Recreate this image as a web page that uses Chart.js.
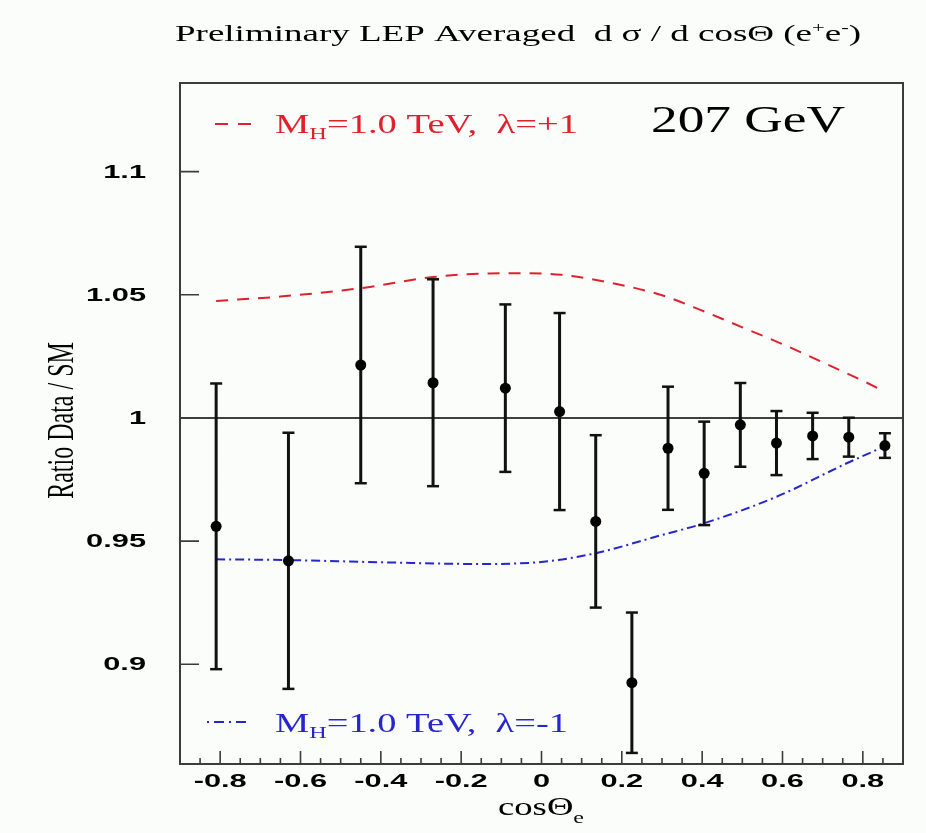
<!DOCTYPE html>
<html>
<head>
<meta charset="utf-8">
<script src="https://cdn.jsdelivr.net/npm/chart.js@4"></script>
<style>
  body { margin: 0; background: #fbfdfb; }
  canvas { display: block; }
</style>
</head>
<body>
<canvas id="lepChart" width="926" height="833"></canvas>
<script>
// measured points: bin centres in cos(theta_e), ratio data / SM and its error
const cosTheta = [-0.81, -0.63, -0.45, -0.27, -0.09, 0.045, 0.135, 0.225, 0.315, 0.405, 0.495, 0.585, 0.675, 0.765, 0.855];
const ratio    = [0.956, 0.942, 1.0215, 1.0143, 1.0121, 1.0026, 0.958, 0.8925, 0.9877, 0.9775, 0.9972, 0.9898, 0.9927, 0.9922, 0.9888];
const ratioErr = [0.058, 0.052, 0.048, 0.042, 0.034, 0.040, 0.035, 0.0285, 0.025, 0.021, 0.017, 0.013, 0.0094, 0.0079, 0.005];

// theory curves, M_H = 1.0 TeV
const plusX  = [-0.81, -0.65, -0.45, -0.27, -0.13, -0.05, 0.05, 0.19, 0.30, 0.40, 0.50, 0.60, 0.70, 0.80, 0.855];
const plusY  = [1.0475, 1.0493, 1.0527, 1.0572, 1.0587, 1.0588, 1.0581, 1.0543, 1.0498, 1.0436, 1.0368, 1.0300, 1.0226, 1.0151, 1.0107];
const minusX = [-0.81, -0.63, -0.40, -0.15, 0.01, 0.135, 0.30, 0.40, 0.585, 0.76, 0.855];
const minusY = [0.9426, 0.9423, 0.9414, 0.9407, 0.9417, 0.9451, 0.9525, 0.957, 0.968, 0.9816, 0.9885];

const xTicks = [-0.8, -0.6, -0.4, -0.2, 0, 0.2, 0.4, 0.6, 0.8];
const xTickLabels = ['-0.8', '-0.6', '-0.4', '-0.2', '0', '0.2', '0.4', '0.6', '0.8'];
const yTicks = [0.9, 0.95, 1, 1.05, 1.1];
const yTickLabels = ['0.9', '0.95', '1', '1.05', '1.1'];

const RED = '#e0202c';
const BLUE = '#2626d0';
const SERIF = '"Liberation Serif", "DejaVu Serif", serif';
const SANS = '"Liberation Sans", Arial, sans-serif';

// the original picture is stretched sideways, so text is drawn scaled in x
function drawParts(ctx, parts, x, y, opts) {
  let natural = 0;
  for (const p of parts) { ctx.font = p.font; natural += ctx.measureText(p.text).width; }
  const sx = opts.width ? opts.width / natural : (opts.sx || 1);
  let left = x;
  if (opts.align === 'center') left = x - natural * sx / 2;
  if (opts.align === 'right') left = x - natural * sx;
  ctx.save();
  ctx.translate(left, y);
  ctx.scale(sx, 1);
  ctx.fillStyle = opts.color || '#000';
  ctx.textAlign = 'left';
  ctx.textBaseline = opts.baseline || 'alphabetic';
  let cx = 0;
  for (const p of parts) {
    ctx.font = p.font;
    ctx.fillText(p.text, cx, p.dy || 0);
    cx += ctx.measureText(p.text).width;
  }
  ctx.restore();
}

const rootStyle = {
  id: 'rootStyle',
  beforeDraw(chart) {
    const ctx = chart.ctx;
    ctx.save();
    ctx.fillStyle = '#fbfdfb';
    ctx.fillRect(0, 0, chart.width, chart.height);
    ctx.restore();
  },
  afterDatasetsDraw(chart) {
    const ctx = chart.ctx;
    const a = chart.chartArea;
    const xs = chart.scales.x, ys = chart.scales.y;

    ctx.save();
    // frame
    ctx.strokeStyle = '#3c3c3c';
    ctx.lineWidth = 2;
    ctx.strokeRect(a.left, a.top, a.right - a.left, a.bottom - a.top);

    // inward ticks
    ctx.lineWidth = 1.6;
    ctx.beginPath();
    for (let v = -0.9; v <= 0.9001; v += 0.05) {
      const px = xs.getPixelForValue(v);
      const major = xTicks.some(t => Math.abs(t - v) < 1e-6);
      ctx.moveTo(px, a.bottom);
      ctx.lineTo(px, a.bottom - (major ? 13 : 6));
    }
    yTicks.forEach(v => {
      const py = ys.getPixelForValue(v);
      ctx.moveTo(a.left, py);
      ctx.lineTo(a.left + 19, py);
    });
    ctx.stroke();
    ctx.restore();

    // tick labels
    xTicks.forEach((v, i) => {
      drawParts(ctx, [{ text: xTickLabels[i], font: 'bold 19px ' + SANS }],
        xs.getPixelForValue(v), a.bottom + 18, { sx: 1.62, align: 'center', baseline: 'middle' });
    });
    yTicks.forEach((v, i) => {
      drawParts(ctx, [{ text: yTickLabels[i], font: 'bold 19px ' + SANS }],
        146, ys.getPixelForValue(v) + 1, { sx: 1.62, align: 'right', baseline: 'middle' });
    });

    // title
    drawParts(ctx, [
      { text: 'Preliminary LEP Averaged  d σ / d cosΘ (e', font: '23px ' + SERIF },
      { text: '+', font: '14px ' + SERIF, dy: -9 },
      { text: 'e', font: '23px ' + SERIF },
      { text: '-', font: '14px ' + SERIF, dy: -9 },
      { text: ')', font: '23px ' + SERIF }
    ], 175, 41, { width: 686 });

    // axis titles
    drawParts(ctx, [
      { text: 'cosΘ', font: '26px ' + SERIF },
      { text: 'e', font: '17px ' + SERIF, dy: 8 }
    ], 541, 815, { width: 86, align: 'center' });

    ctx.save();
    ctx.translate(73, (a.top + a.bottom) / 2 - 3);
    ctx.rotate(-Math.PI / 2);
    ctx.scale(1, 1.6);
    ctx.font = '24px ' + SERIF;
    ctx.fillStyle = '#000';
    ctx.textAlign = 'center';
    ctx.textBaseline = 'alphabetic';
    ctx.fillText('Ratio Data / SM', 0, 0);
    ctx.restore();

    // legend samples
    ctx.save();
    ctx.lineWidth = 2;
    ctx.strokeStyle = RED;
    ctx.setLineDash([13, 10]);
    ctx.beginPath(); ctx.moveTo(215, 124); ctx.lineTo(252, 124); ctx.stroke();
    ctx.strokeStyle = BLUE;
    ctx.setLineDash([2, 5, 10, 5]);
    ctx.beginPath(); ctx.moveTo(207, 722); ctx.lineTo(250, 722); ctx.stroke();
    ctx.restore();

    drawParts(ctx, [
      { text: 'M', font: '27px ' + SERIF },
      { text: 'H', font: '17px ' + SERIF, dy: 6 },
      { text: '=1.0 TeV,  λ=+1', font: '27px ' + SERIF }
    ], 275, 133, { width: 303, color: RED });
    drawParts(ctx, [
      { text: 'M', font: '27px ' + SERIF },
      { text: 'H', font: '17px ' + SERIF, dy: 6 },
      { text: '=1.0 TeV,  λ=-1', font: '27px ' + SERIF }
    ], 275, 732, { width: 293, color: BLUE });

    drawParts(ctx, [{ text: '207 GeV', font: '37px ' + SERIF }], 651, 132, { width: 194 });
  }
};

const errorBarData = [];
cosTheta.forEach((c, i) => {
  errorBarData.push({ x: c, y: ratio[i] - ratioErr[i] });
  errorBarData.push({ x: c, y: ratio[i] + ratioErr[i] });
  errorBarData.push({ x: c, y: null });
});

const ctx = document.getElementById('lepChart').getContext('2d');
new Chart(ctx, {
  type: 'scatter',
  data: {
    datasets: [
      {
        label: 'LEP data',
        data: cosTheta.map((c, i) => ({ x: c, y: ratio[i] })),
        backgroundColor: '#000',
        borderColor: '#000',
        pointRadius: 5.5,
        pointBorderWidth: 0
      },
      {
        type: 'line',
        label: 'errors',
        data: errorBarData,
        borderColor: '#111',
        borderWidth: 3,
        pointStyle: 'line',
        pointRadius: 6,
        pointBorderWidth: 2.5,
        spanGaps: false
      },
      {
        type: 'line',
        label: 'M_H=1.0 TeV, lambda=+1',
        data: plusX.map((x, i) => ({ x: x, y: plusY[i] })),
        borderColor: RED,
        borderWidth: 2,
        borderDash: [12, 9],
        pointRadius: 0,
        cubicInterpolationMode: 'monotone'
      },
      {
        type: 'line',
        label: 'M_H=1.0 TeV, lambda=-1',
        data: minusX.map((x, i) => ({ x: x, y: minusY[i] })),
        borderColor: BLUE,
        borderWidth: 2,
        borderDash: [9, 4, 2, 4],
        pointRadius: 0,
        cubicInterpolationMode: 'monotone'
      },
      {
        type: 'line',
        label: 'SM',
        data: [{ x: -0.9, y: 1 }, { x: 0.9, y: 1 }],
        borderColor: '#000',
        borderWidth: 1.5,
        pointRadius: 0
      }
    ]
  },
  options: {
    responsive: false,
    animation: false,
    events: [],
    layout: { padding: { left: 180, right: 23, top: 83, bottom: 69 } },
    scales: {
      x: { type: 'linear', display: false, min: -0.9, max: 0.9 },
      y: { type: 'linear', display: false, min: 0.8595, max: 1.136 }
    },
    plugins: {
      legend: { display: false },
      tooltip: { enabled: false }
    }
  },
  plugins: [rootStyle]
});
</script>
</body>
</html>
